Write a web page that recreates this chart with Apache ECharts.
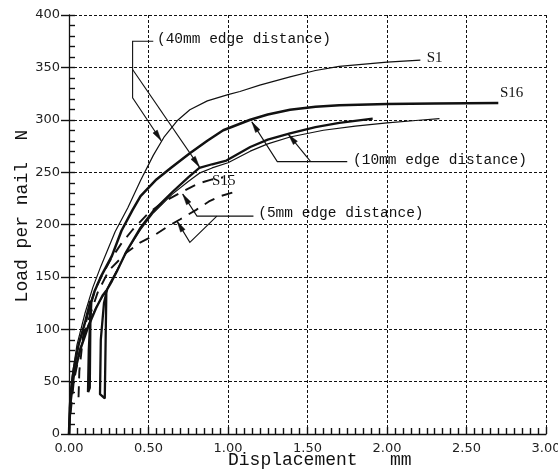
<!DOCTYPE html>
<html>
<head>
<meta charset="utf-8">
<script src="https://cdn.jsdelivr.net/npm/echarts@6/dist/echarts.min.js"></script>
<style>
  html, body { margin: 0; padding: 0; background: #fff; }
  #chart { width: 558px; height: 474px; }
</style>
</head>
<body>
<div id="chart"></div>
<script>
// Tick labels
const xTickLabels = ['0.00', '0.50', '1.00', '1.50', '2.00', '2.50', '3.00'];
const yTickLabels = ['0', '50', '100', '150', '200', '250', '300', '350', '400'];

// Load–displacement curves, [displacement mm, load N]
const curveS1 = [
  [0, 0], [0.005, 30], [0.02, 55], [0.05, 85], [0.1, 115], [0.15, 140], [0.2, 160],
  [0.29, 193], [0.37, 216], [0.45, 242], [0.53, 266], [0.6, 284], [0.68, 299],
  [0.76, 309.5], [0.87, 318], [1.0, 324], [1.075, 327], [1.2, 333], [1.39, 341],
  [1.55, 347], [1.7, 351], [2.0, 355], [2.21, 357]
];
const curveS16 = [
  [0, 0], [0.005, 25], [0.015, 45], [0.03, 62], [0.06, 85], [0.1, 106], [0.135, 127],
  [0.13, 44], [0.12, 40], [0.125, 80], [0.14, 126], [0.16, 136], [0.2, 150],
  [0.27, 170], [0.33, 194], [0.4, 214], [0.45, 227], [0.55, 243], [0.64, 254],
  [0.76, 268], [0.87, 280], [0.97, 290], [1.14, 300], [1.25, 305], [1.39, 309.5],
  [1.55, 312.5], [1.7, 313.8], [2.0, 315], [2.3, 315.5], [2.7, 316]
];
const curvePairThick = [
  [0, 0], [0.01, 30], [0.03, 55], [0.07, 80], [0.12, 102], [0.17, 120], [0.21, 132],
  [0.235, 137], [0.225, 34], [0.195, 38], [0.2, 90], [0.22, 125], [0.24, 138],
  [0.27, 146], [0.3, 155], [0.36, 174], [0.45, 197], [0.53, 213], [0.65, 231],
  [0.75, 245], [0.82, 254], [0.9, 257.5], [0.99, 261], [1.14, 274], [1.25, 281],
  [1.39, 287], [1.55, 293], [1.7, 297], [1.91, 301]
];
const curvePairThin = [
  [0, 0], [0.01, 32], [0.03, 57], [0.07, 82], [0.12, 104], [0.17, 121], [0.22, 133],
  [0.26, 145], [0.3, 156], [0.37, 176], [0.45, 195], [0.53, 211], [0.65, 229],
  [0.75, 241], [0.82, 249], [0.9, 254], [1.0, 259], [1.14, 270], [1.25, 277],
  [1.39, 283.5], [1.6, 290], [1.8, 294], [2.0, 297], [2.2, 299.5], [2.33, 301]
];
const curveDashedUpper = [
  [0.06, 35], [0.065, 60], [0.09, 95], [0.13, 122], [0.17, 140], [0.21, 152],
  [0.26, 166], [0.33, 182], [0.4, 195], [0.5, 211], [0.6, 222], [0.71, 231],
  [0.81, 239], [0.9, 243], [0.97, 245]
];
const curveDashedLower = [
  [0.01, 20], [0.03, 50], [0.07, 80], [0.12, 108], [0.18, 135], [0.25, 156],
  [0.36, 173], [0.45, 183], [0.54, 190], [0.62, 198], [0.7, 205], [0.8, 214],
  [0.88, 222], [0.95, 227], [1.04, 231]
];

// Leader lines from the notes to the curves (axis units); the last point carries an arrowhead
const leaderLines = [
  [[0.53, 375], [0.40, 375], [0.40, 321], [0.58, 280]],
  [[0.40, 348], [0.82, 255]],
  [[1.75, 260], [1.31, 260], [1.15, 298]],
  [[1.52, 260], [1.38, 286]],
  [[1.16, 208], [0.805, 208], [0.715, 229]],
  [[0.93, 208], [0.76, 183], [0.68, 203]]
];

// Notes and curve names, anchored at their left-middle point (axis units)
const noteTexts = ['(40mm edge distance)', '(10mm edge distance)', '(5mm edge distance)'];
const noteAnchors = [[0.553, 377], [1.786, 261.5], [1.19, 211]];
const curveNames = ['S1', 'S16', 'S15'];
const curveNameAnchors = [[2.25, 359], [2.71, 325.6], [0.90, 241.6]];

// Minor tick spacing on the load axis
const Y_MINOR_STEP = 10, Y_MAX = 400, X_MAX = 3;

const INK = '#111';
const chart = echarts.init(document.getElementById('chart'), null, { renderer: 'canvas' });

function lineSeries(data, width, dashed) {
  return {
    type: 'line', data: data, symbol: 'none', showSymbol: false, silent: true,
    lineStyle: { color: INK, width: width, type: dashed ? [11, 8] : 'solid' },
    z: 3
  };
}

const tickFont = { fontFamily: 'DejaVu Sans', fontSize: 13, color: '#222' };

chart.setOption({
  animation: false,
  backgroundColor: '#fff',
  grid: { left: 69, right: 12, top: 15, bottom: 40, containLabel: false, outerBoundsMode: 'none' },
  xAxis: {
    type: 'value', min: 0, max: X_MAX, interval: 0.5, position: 'bottom',
    axisLine: { show: true, onZero: false, lineStyle: { color: INK, width: 1.3 } },
    axisTick: { show: true, inside: true, length: 7, lineStyle: { color: INK, width: 1.4 } },
    minorTick: { show: true, splitNumber: 10, length: 6, lineStyle: { color: INK, width: 1.4 } },
    axisLabel: Object.assign({ margin: 8, formatter: v => xTickLabels[Math.round(v / 0.5)] }, tickFont),
    splitLine: { show: true, lineStyle: { color: INK, width: 1, type: [3, 2] } }
  },
  yAxis: {
    type: 'value', min: 0, max: Y_MAX, interval: 50, position: 'left',
    axisLine: { show: true, onZero: false, lineStyle: { color: INK, width: 1.3 } },
    axisTick: { show: true, inside: false, length: 8, lineStyle: { color: INK, width: 1.4 } },
    axisLabel: Object.assign({ margin: 9, formatter: v => yTickLabels[Math.round(v / 50)] }, tickFont),
    splitLine: { show: true, lineStyle: { color: INK, width: 1, type: [3, 2] } }
  },
  series: [
    lineSeries(curveS1, 1.2, false),
    lineSeries(curveS16, 2.5, false),
    lineSeries(curvePairThick, 2.3, false),
    lineSeries(curvePairThin, 1.2, false),
    lineSeries(curveDashedUpper, 1.9, true),
    lineSeries(curveDashedLower, 1.9, true),
    {
      // small inward ticks along the load axis
      type: 'custom', coordinateSystem: 'cartesian2d', silent: true, clip: false, z: 2,
      data: [[X_MAX / 2, Y_MAX / 2]],
      renderItem: function (params, api) {
        const children = [];
        const ny = Math.round(Y_MAX / Y_MINOR_STEP);
        for (let j = 1; j <= ny; j++) {
          const p = api.coord([0, j * Y_MINOR_STEP]);
          const y = Math.round(p[1]) + 0.5;
          children.push({ type: 'line', shape: { x1: p[0], y1: y, x2: p[0] + 6, y2: y },
            style: { stroke: INK, lineWidth: 1.4 } });
        }
        return { type: 'group', children: children };
      }
    },
    {
      // leader lines with arrowheads
      type: 'custom', coordinateSystem: 'cartesian2d', silent: true, clip: false, z: 4,
      data: leaderLines.map(p => p[p.length - 1]),
      renderItem: function (params, api) {
        const pts = leaderLines[params.dataIndex].map(p => api.coord(p));
        const a = pts[pts.length - 2], b = pts[pts.length - 1];
        const dx = b[0] - a[0], dy = b[1] - a[1];
        const len = Math.sqrt(dx * dx + dy * dy) || 1;
        const ux = dx / len, uy = dy / len;
        const hl = 11, hw = 2.6;
        const bx = b[0] - ux * hl, by = b[1] - uy * hl;
        return {
          type: 'group',
          children: [
            { type: 'polyline', shape: { points: pts }, style: { stroke: INK, lineWidth: 1.1, fill: null } },
            {
              type: 'polygon',
              shape: { points: [b, [bx - uy * hw, by + ux * hw], [bx + uy * hw, by - ux * hw]] },
              style: { fill: INK, stroke: INK, lineWidth: 0.5 }
            }
          ]
        };
      }
    },
    {
      // notes
      type: 'custom', coordinateSystem: 'cartesian2d', silent: true, clip: false, z: 5,
      data: noteAnchors,
      renderItem: function (params, api) {
        const p = api.coord([api.value(0), api.value(1)]);
        return {
          type: 'text', x: p[0], y: p[1],
          style: {
            text: noteTexts[params.dataIndex], fill: INK,
            font: '14.5px "Liberation Mono"',
            align: 'left', verticalAlign: 'middle', textAlign: 'left', textVerticalAlign: 'middle'
          }
        };
      }
    },
    {
      // curve names
      type: 'custom', coordinateSystem: 'cartesian2d', silent: true, clip: false, z: 5,
      data: curveNameAnchors,
      renderItem: function (params, api) {
        const p = api.coord([api.value(0), api.value(1)]);
        return {
          type: 'text', x: p[0], y: p[1],
          style: {
            text: curveNames[params.dataIndex], fill: INK,
            font: '15px "Liberation Serif"',
            align: 'left', verticalAlign: 'middle', textAlign: 'left', textVerticalAlign: 'middle'
          }
        };
      }
    }
  ],
  graphic: [
    {
      type: 'text', x: 228, y: 460, silent: true,
      style: {
        text: 'Displacement   mm', fill: INK, font: '18px "Liberation Mono"',
        align: 'left', verticalAlign: 'middle', textAlign: 'left', textVerticalAlign: 'middle'
      }
    },
    {
      type: 'text', x: 22, y: 216, rotation: Math.PI / 2, silent: true,
      style: {
        text: 'Load per nail  N', fill: INK, font: '18px "Liberation Mono"',
        align: 'center', verticalAlign: 'middle', textAlign: 'center', textVerticalAlign: 'middle'
      }
    }
  ]
});
</script>
</body>
</html>
